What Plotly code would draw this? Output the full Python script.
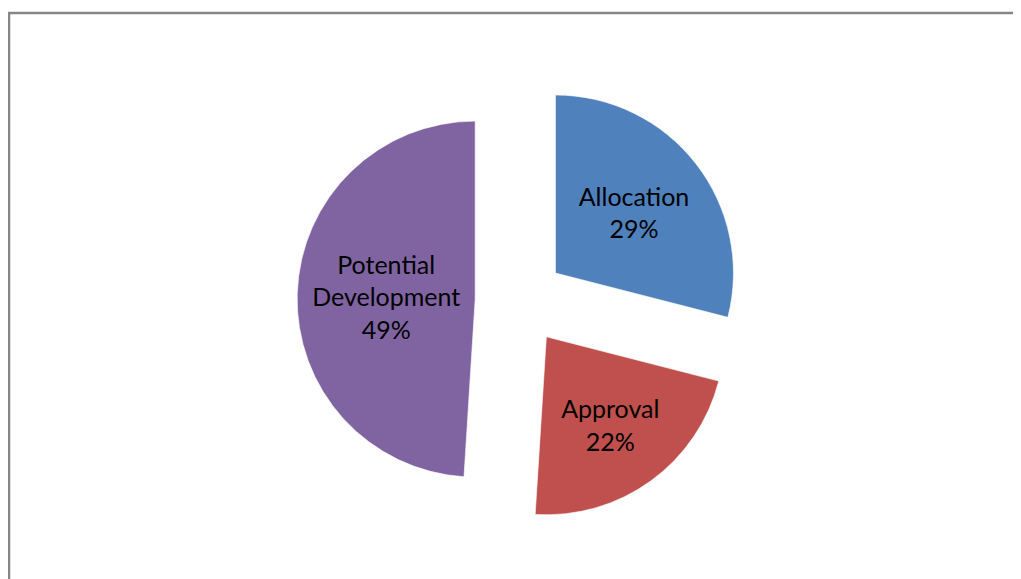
import plotly.graph_objects as go

labels = ["Allocation", "Approval", "Potential Development"]
values = [29, 22, 49]
colors = ["#4F81BD", "#C0504D", "#8064A2"]
text_labels = ["Allocation", "Approval", "Potential<br>Development"]

# page body has an 8px margin, so the figure is sized to fit the window
W, H = 1013, 571
cx, cy, r, pull = 512, 292.5, 178, 0.252
half = r * (1 + pull)

fig = go.Figure(go.Pie(
    labels=labels,
    values=values,
    text=text_labels,
    texttemplate="%{text}<br>%{percent:.0%}",
    textposition="inside",
    insidetextorientation="horizontal",
    sort=False,
    direction="clockwise",
    rotation=0,
    pull=[pull] * 3,
    marker=dict(colors=colors, line=dict(color="rgba(255,255,255,0.6)", width=1)),
    textfont=dict(family="Lato", size=25, color="#000000"),
    domain=dict(x=[(cx - half) / W, (cx + half) / W],
                y=[1 - (cy + half) / H, 1 - (cy - half) / H]),
    hoverinfo="label+percent",
    showlegend=False,
))

fig.add_shape(type="rect", xref="paper", yref="paper",
              x0=1 / W, x1=1.05, y0=-0.05, y1=1 - 5 / H,
              line=dict(color="#868686", width=2.5), fillcolor="rgba(0,0,0,0)")

fig.update_layout(
    width=W, height=H,
    margin=dict(l=0, r=0, t=0, b=0),
    paper_bgcolor="white",
    plot_bgcolor="white",
    showlegend=False,
)

fig.write_html("out.html")
